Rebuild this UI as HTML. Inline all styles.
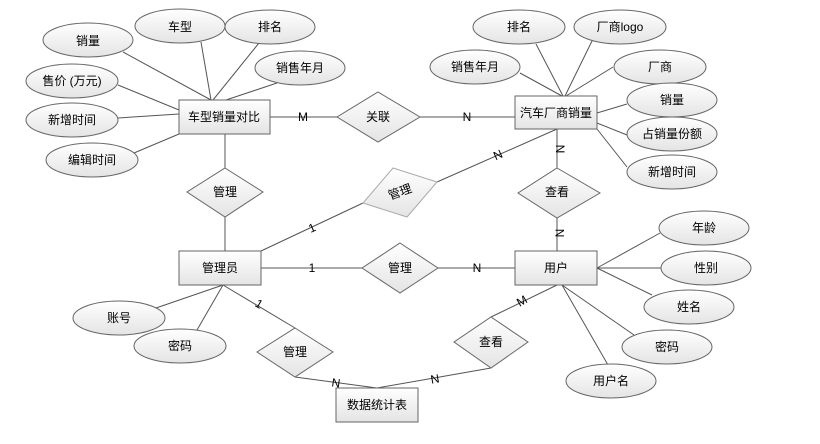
<!DOCTYPE html>
<html><head><meta charset="utf-8"><style>
body{margin:0;background:#fff}
svg text{font-family:"Liberation Sans","Noto Sans CJK SC",sans-serif;font-size:12px;fill:#000;text-anchor:middle;dominant-baseline:central}
</style></head><body>
<svg width="820" height="439" viewBox="0 0 820 439" xmlns="http://www.w3.org/2000/svg">
<defs>
<linearGradient id="g" x1="0" y1="0" x2="0" y2="1"><stop offset="0" stop-color="#ffffff"/><stop offset="1" stop-color="#e4e4e4"/></linearGradient>
</defs>
<g stroke="#555" stroke-width="1" fill="none">
<!-- left entity attrs -->
<line x1="123" y1="52" x2="211" y2="100"/>
<line x1="201" y1="42" x2="211" y2="100"/>
<line x1="259" y1="43" x2="213" y2="100"/>
<line x1="277" y1="83" x2="226" y2="100"/>
<line x1="118" y1="85" x2="179" y2="110"/>
<line x1="118" y1="118" x2="179" y2="114"/>
<line x1="134" y1="153" x2="179" y2="134"/>
<!-- right entity attrs -->
<line x1="536" y1="44" x2="563" y2="96"/>
<line x1="592" y1="41" x2="565" y2="96"/>
<line x1="520" y1="73" x2="562" y2="96"/>
<line x1="613" y1="67" x2="566" y2="96"/>
<line x1="627" y1="104" x2="597" y2="113"/>
<line x1="627" y1="135" x2="597" y2="123"/>
<line x1="627" y1="167" x2="597" y2="129"/>
<!-- relations -->
<line x1="270" y1="117" x2="337" y2="117"/>
<line x1="420" y1="117" x2="515" y2="117"/>
<line x1="225" y1="134" x2="225" y2="168"/>
<line x1="225" y1="217" x2="225" y2="251"/>
<line x1="557" y1="129" x2="557" y2="168"/>
<line x1="557" y1="218" x2="557" y2="251"/>
<line x1="261" y1="251" x2="363" y2="203"/>
<line x1="437" y1="182" x2="557" y2="129"/>
<line x1="261" y1="268" x2="362" y2="268"/>
<line x1="438" y1="268" x2="515" y2="268"/>
<line x1="223" y1="285" x2="295" y2="328"/>
<line x1="295" y1="377" x2="377" y2="388"/>
<line x1="377" y1="388" x2="491" y2="368"/>
<line x1="491" y1="317" x2="557" y2="285"/>
<!-- bottom attrs -->
<line x1="223" y1="285" x2="156" y2="308"/>
<line x1="223" y1="285" x2="197" y2="330"/>
<line x1="597" y1="268" x2="660" y2="233"/>
<line x1="597" y1="268" x2="662" y2="268"/>
<line x1="597" y1="268" x2="652" y2="295"/>
<line x1="562" y1="285" x2="634" y2="335"/>
<line x1="562" y1="285" x2="608" y2="365"/>
</g>
<g stroke="#666" fill="url(#g)">
<ellipse cx="88" cy="40" rx="45" ry="17"/>
<ellipse cx="180" cy="26" rx="45" ry="17"/>
<ellipse cx="270" cy="27" rx="45" ry="17"/>
<ellipse cx="300" cy="68" rx="45" ry="17"/>
<ellipse cx="72" cy="81" rx="46" ry="17"/>
<ellipse cx="72" cy="120" rx="46" ry="17"/>
<ellipse cx="92" cy="160" rx="46" ry="17"/>
<ellipse cx="519" cy="27" rx="46" ry="17"/>
<ellipse cx="620" cy="27" rx="46" ry="17"/>
<ellipse cx="475" cy="67" rx="45" ry="17"/>
<ellipse cx="660" cy="67" rx="46" ry="17"/>
<ellipse cx="672" cy="100" rx="45" ry="17"/>
<ellipse cx="672" cy="134" rx="45" ry="17"/>
<ellipse cx="672" cy="172" rx="45" ry="17"/>
<ellipse cx="704" cy="228" rx="45" ry="17"/>
<ellipse cx="706" cy="268" rx="45" ry="17"/>
<ellipse cx="689" cy="307" rx="45" ry="17"/>
<ellipse cx="667" cy="347" rx="45" ry="17"/>
<ellipse cx="611" cy="381" rx="45" ry="17"/>
<ellipse cx="119" cy="318" rx="46" ry="17"/>
<ellipse cx="180" cy="346" rx="46" ry="17"/>
<rect x="179" y="100" width="91" height="34"/>
<rect x="515" y="96" width="82" height="33"/>
<rect x="179" y="251" width="82" height="34"/>
<rect x="515" y="251" width="82" height="34"/>
<rect x="336" y="388" width="82" height="34"/>
<polygon points="378,92 420,117 378,142 337,117"/>
<polygon points="225,168 263,192 225,217 187,192"/>
<polygon points="557,168 600,193 557,218 518,193"/>
<polygon points="400,243 438,268 400,293 362,268"/>
<polygon points="295,328 333,352 295,377 257,352"/>
<polygon points="491,317 528,342 491,368 454,342"/>
<polygon points="393,168 437,182 407,217 363,203" stroke="#aaa"/>
</g>
<text x="88" y="41">销量</text><text x="180" y="27">车型</text><text x="270" y="27">排名</text>
<text x="300" y="68">销售年月</text><text x="72" y="81">售价 (万元)</text><text x="72" y="120">新增时间</text>
<text x="92" y="160">编辑时间</text>
<text x="519" y="27">排名</text><text x="620" y="27">厂商logo</text><text x="475" y="67">销售年月</text>
<text x="660" y="67">厂商</text><text x="672" y="100">销量</text><text x="672" y="134">占销量份额</text>
<text x="672" y="172">新增时间</text>
<text x="704" y="228">年龄</text><text x="706" y="268">性别</text><text x="689" y="307">姓名</text>
<text x="667" y="347">密码</text><text x="611" y="381">用户名</text>
<text x="119" y="318">账号</text><text x="180" y="346">密码</text>
<text x="224" y="117">车型销量对比</text><text x="556" y="113">汽车厂商销量</text>
<text x="220" y="268">管理员</text><text x="556" y="268">用户</text><text x="377" y="405">数据统计表</text>
<text x="378" y="117">关联</text><text x="225" y="192">管理</text><text x="557" y="192">查看</text>
<text x="400" y="268">管理</text><text x="295" y="352">管理</text><text x="491" y="342">查看</text>
<text x="400" y="192" transform="rotate(-20 400 192)">管理</text>
<g style="font-size:11px">
<text x="303" y="117" style="fill:#000">M</text>
<text x="467" y="117">N</text>
<text x="498" y="155" transform="rotate(-24 498 155)">N</text>
<text x="312" y="228" transform="rotate(-24 312 228)">1</text>
<text x="312" y="268">1</text>
<text x="477" y="268">N</text>
<text x="560" y="149" transform="rotate(90 560 149)">N</text>
<text x="560" y="233" transform="rotate(-90 560 233)">N</text>
<text x="259" y="304" transform="rotate(30 259 304)">1</text>
<text x="522" y="301" transform="rotate(-30 522 301)">M</text>
<text x="336" y="383" transform="rotate(8 336 383)">N</text>
<text x="435" y="379" transform="rotate(-10 435 379)">N</text>
</g>
</svg>
</body></html>
